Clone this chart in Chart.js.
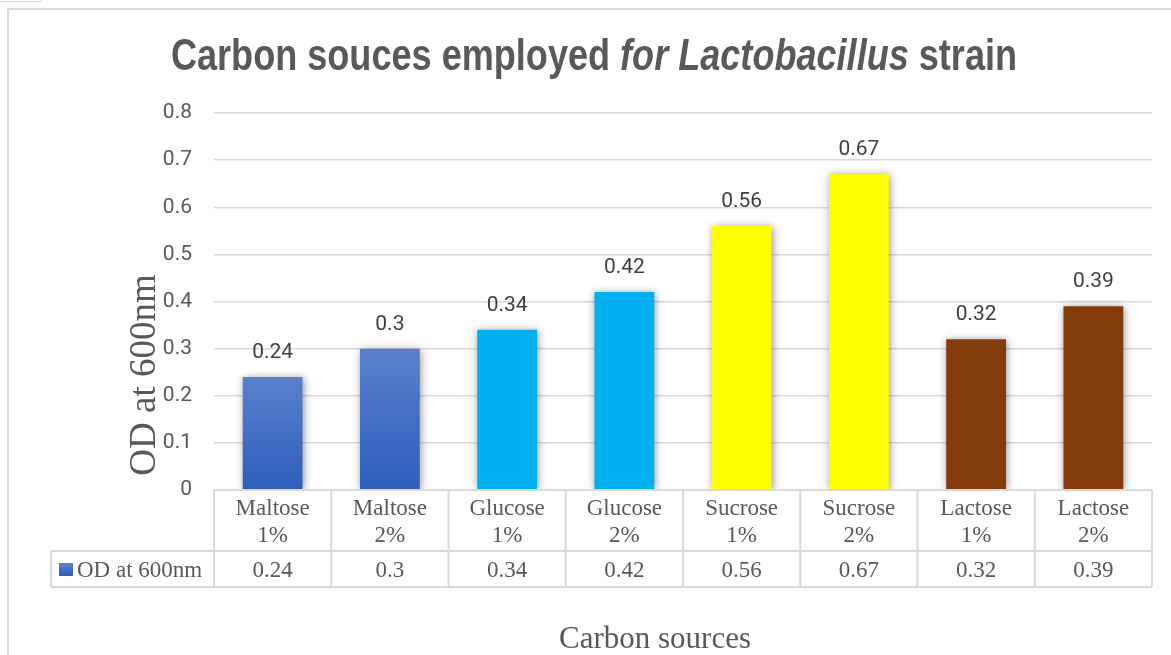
<!DOCTYPE html>
<html>
<head>
<meta charset="utf-8">
<script src="https://cdn.jsdelivr.net/npm/chart.js@4/dist/chart.umd.min.js"></script>
<style>
  html, body { margin: 0; padding: 0; background: #fff; }
  #wrap { position: relative; width: 1171px; height: 655px; overflow: hidden; }
  #frame { position: absolute; left: 7px; top: 8px; width: 1200px; height: 700px; border: 2px solid #d9d9d9; box-sizing: border-box; }
  #corner { position: absolute; left: -2px; top: -10px; width: 44px; height: 12px; border: 1px solid #d9d9d9; box-sizing: border-box; }
  canvas { position: absolute; left: 0; top: 0; }
</style>
</head>
<body>
<div id="wrap">
  <div id="frame"></div>
  <div id="corner"></div>
  <canvas id="chart" width="1171" height="655"></canvas>
</div>
<script>
// data
const categories = [
  ["Maltose", "1%"], ["Maltose", "2%"],
  ["Glucose", "1%"], ["Glucose", "2%"],
  ["Sucrose", "1%"], ["Sucrose", "2%"],
  ["Lactose", "1%"], ["Lactose", "2%"]
];
const odValues = [0.24, 0.3, 0.34, 0.42, 0.56, 0.67, 0.32, 0.39];
const seriesName = "OD at 600nm";
const yMin = 0;
const yMax = 0.8;
const yStep = 0.1;

const GREY = "#595959";
const LINE = "#d9d9d9";
const serif = "'Liberation Serif', 'Times New Roman', serif";
const sans = "Roboto, 'Liberation Sans', sans-serif";
const titleFont = "'Liberation Sans', Arial, sans-serif";

// bar colour by group; maltose is a blue gradient per bar
function barColor(ctx) {
  const i = ctx.dataIndex;
  const chart = ctx.chart;
  if (i < 2) {
    const area = chart.chartArea;
    const ys = chart.scales.y;
    if (!area || !ys) return "#4472c4";
    const top = ys.getPixelForValue(odValues[i]);
    const g = chart.ctx.createLinearGradient(0, top, 0, area.bottom);
    g.addColorStop(0, "#5b80cd");
    g.addColorStop(1, "#2e5dbc");
    return g;
  }
  if (i < 4) return "#00b0f0";
  if (i < 6) return "#ffff00";
  return "#843c0c";
}

const shadowPlugin = {
  id: "barShadow",
  beforeDatasetsDraw(chart) {
    const c = chart.ctx;
    c.save();
    c.shadowColor = "rgba(0,0,0,0.42)";
    c.shadowBlur = 8;
    c.shadowOffsetX = 1;
    c.shadowOffsetY = 1;
  },
  afterDatasetsDraw(chart) {
    chart.ctx.restore();
  }
};

const decorPlugin = {
  id: "decor",
  afterDraw(chart) {
    const c = chart.ctx;
    const area = chart.chartArea;
    const xs = chart.scales.x;
    const meta = chart.getDatasetMeta(0);
    const colW = (area.right - area.left) / categories.length;
    const b = area.bottom;
    const row1 = b + 61;
    const row2 = b + 97;
    const legLeft = 51;

    c.save();

    // data labels
    c.fillStyle = "#404040";
    c.font = "21px " + sans;
    c.textAlign = "center";
    c.textBaseline = "alphabetic";
    meta.data.forEach((bar, i) => {
      c.fillText(String(odValues[i]), bar.x, bar.y - 19);
    });

    // data table
    c.strokeStyle = LINE;
    c.lineWidth = 2;
    c.beginPath();
    c.moveTo(area.left, b); c.lineTo(area.right, b);
    c.moveTo(legLeft, row1); c.lineTo(area.right, row1);
    c.moveTo(legLeft, row2); c.lineTo(area.right, row2);
    c.moveTo(legLeft, row1); c.lineTo(legLeft, row2);
    for (let i = 0; i <= categories.length; i++) {
      const x = area.left + i * colW;
      c.moveTo(x, b); c.lineTo(x, row2);
    }
    c.stroke();

    c.fillStyle = GREY;
    c.font = "23px " + serif;
    c.textAlign = "center";
    categories.forEach((lab, i) => {
      const x = xs.getPixelForValue(i);
      c.fillText(lab[0], x, b + 25);
      c.fillText(lab[1], x, b + 52);
      c.fillText(String(odValues[i]), x, b + 87);
    });

    // legend key in table
    const g = c.createLinearGradient(0, b + 73, 0, b + 86);
    g.addColorStop(0, "#5b80cd");
    g.addColorStop(1, "#2e5dbc");
    c.fillStyle = g;
    c.fillRect(legLeft + 8, b + 73, 14, 13);
    c.fillStyle = GREY;
    c.textAlign = "left";
    c.fillText(seriesName, legLeft + 26, b + 87);

    // y axis title
    c.save();
    c.translate(area.left - 69, b - 115);
    c.rotate(-Math.PI / 2);
    c.font = "37px " + serif;
    c.textAlign = "center";
    c.textBaseline = "middle";
    c.fillStyle = GREY;
    c.fillText(seriesName, 0, 0);
    c.restore();

    // x axis title
    c.font = "31px " + serif;
    c.textAlign = "center";
    c.textBaseline = "alphabetic";
    c.fillStyle = GREY;
    c.fillText("Carbon sources", 655, 648);

    // main title with italic part, squeezed to look like a narrow face
    const parts = [
      ["Carbon souces employed ", "bold"],
      ["for Lactobacillus", "italic bold"],
      [" strain", "bold"]
    ];
    const size = 44;
    const squeeze = 0.82;
    let total = 0;
    parts.forEach(p => { c.font = p[1] + " " + size + "px " + titleFont; total += c.measureText(p[0]).width; });
    c.save();
    c.translate(594 - total * squeeze / 2, 70);
    c.scale(squeeze, 1);
    let x = 0;
    c.textAlign = "left";
    parts.forEach(p => {
      c.font = p[1] + " " + size + "px " + titleFont;
      c.fillText(p[0], x, 0);
      x += c.measureText(p[0]).width;
    });
    c.restore();

    c.restore();
  }
};

const ctx = document.getElementById("chart").getContext("2d");
new Chart(ctx, {
  type: "bar",
  data: {
    labels: categories,
    datasets: [{
      label: seriesName,
      data: odValues,
      backgroundColor: barColor,
      borderWidth: 0,
      barPercentage: 0.51,
      categoryPercentage: 1
    }]
  },
  options: {
    responsive: false,
    animation: false,
    layout: { padding: { top: 113, bottom: 165, left: 0, right: 19 } },
    plugins: {
      legend: { display: false },
      title: { display: false },
      tooltip: { enabled: false }
    },
    scales: {
      x: { display: false },
      y: {
        min: yMin,
        max: yMax,
        afterFit(scale) { scale.width = 214; },
        ticks: {
          stepSize: yStep,
          padding: 22,
          color: GREY,
          font: { family: "Roboto", size: 21 },
          callback: v => String(Number(v.toFixed(1)))
        },
        grid: { color: LINE, lineWidth: 1.5, drawTicks: false },
        border: { display: false }
      }
    }
  },
  plugins: [shadowPlugin, decorPlugin]
});
</script>
</body>
</html>
